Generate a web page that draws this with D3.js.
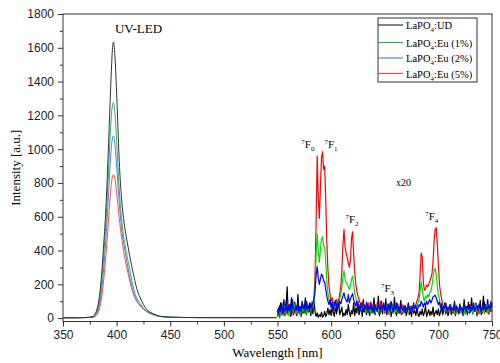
<!DOCTYPE html>
<html>
<head>
<meta charset="utf-8">
<script src="https://cdn.jsdelivr.net/npm/d3@7"></script>
<style>
  body { margin: 0; background: #fff; }
  svg { display: block; }
</style>
</head>
<body>
<svg id="chart" width="500" height="363"></svg>
<script>
// LED emission band (smooth part), wavelengths in nm
const ledX = [350, 360, 370, 374, 376, 378, 380, 382, 384, 386, 388, 390, 391, 392, 393, 394, 395, 396, 397,
  398, 399, 400, 401, 402, 403, 404, 405, 406, 408, 410, 412, 414, 416, 418, 420, 422, 425, 428, 431,
  435, 440, 445, 450, 460, 480, 500, 520, 549];
const ledUD = [2, 2, 3, 5, 7, 10, 25, 60, 130, 260, 440, 650, 790, 950, 1120, 1290, 1450, 1580, 1635,
  1590, 1480, 1330, 1170, 1000, 860, 760, 680, 615, 520, 445, 375, 310, 250, 195, 150, 120, 80, 52, 36,
  24, 12, 8, 6, 4, 3, 3, 3, 3];
const ledEu1 = [2, 2, 3, 4, 6, 8, 18, 45, 100, 210, 370, 560, 680, 810, 950, 1080, 1190, 1255, 1275,
  1240, 1160, 1050, 930, 810, 710, 630, 565, 510, 430, 360, 295, 225, 170, 130, 105, 85, 60, 42, 30,
  20, 11, 7, 5, 4, 3, 3, 3, 3];
const ledEu2 = [2, 2, 3, 4, 5, 6, 14, 34, 80, 165, 300, 470, 570, 680, 800, 910, 1005, 1060, 1080,
  1050, 985, 900, 810, 720, 640, 570, 510, 465, 390, 320, 250, 190, 145, 115, 92, 75, 55, 40, 29,
  19, 11, 7, 5, 4, 3, 3, 3, 3];
const ledEu5 = [2, 2, 3, 3, 4, 5, 9, 22, 55, 120, 230, 370, 450, 540, 630, 720, 790, 835, 850,
  835, 800, 740, 680, 620, 560, 505, 460, 415, 345, 285, 225, 175, 135, 108, 88, 72, 53, 38, 28,
  18, 10, 7, 5, 4, 3, 3, 3, 3];

// Eu3+ emission (x20), sampled every 1 nm from 550 to 750
const euStart = 550;
const euUD = [
  10, 60, 5, 90, 20, 40, 110, 15, 70, 185,
  30, 80, 10, 120, 45, 20, 95, 60, 15, 140,
  40, 70, 10, 100, 30, 55, 120, 20, 80, 35,
  90, 15, 60, 25, 110, 40, 10, 30, 5, 20,
  10, 35, 5, 15, 40, 10, 25, 60, 20, 50,
  15, 70, 30, 10, 85, 25, 55, 110, 20, 40,
  65, 10, 30, 15, 50, 20, 80, 35, 10, 45,
  25, 90, 15, 60, 30, 100, 20, 45, 75, 10,
  110, 35, 60, 20, 85, 40, 15, 95, 30, 55,
  120, 20, 70, 40, 130, 15, 60, 100, 25, 80,
  35, 115, 20, 65, 40, 90, 10, 70, 30, 125,
  45, 15, 85, 30, 60, 105, 20, 50, 35, 75,
  15, 40, 90, 20, 55, 10, 70, 30, 45, 15,
  60, 25, 10, 40, 20, 55, 15, 35, 70, 10,
  30, 50, 15, 40, 20, 65, 10, 30, 45, 20,
  55, 15, 35, 70, 20, 45, 90, 25, 60, 15,
  40, 80, 20, 55, 30, 100, 15, 65, 40, 25,
  85, 35, 60, 15, 110, 40, 70, 20, 95, 30,
  50, 120, 25, 65, 40, 90, 15, 75, 35, 105,
  20, 60, 130, 30, 80, 45, 110, 25, 70, 40,
  90];
const euEu5 = [
  15, 40, 10, 55, 25, 70, 20, 45, 30, 60,
  20, 80, 35, 15, 55, 25, 45, 65, 20, 40,
  50, 25, 60, 30, 75, 40, 65, 35, 85, 50,
  40, 70, 95, 60, 120, 260, 560, 960, 720, 590,
  770, 950, 984, 880, 900, 690, 450, 290, 190, 140,
  100, 120, 80, 95, 70, 110, 85, 100, 140, 180,
  280, 430, 525, 420, 385, 360, 330, 300, 340, 470,
  510, 380, 270, 200, 160, 130, 110, 90, 75, 95,
  60, 80, 45, 70, 55, 90, 40, 65, 50, 80,
  35, 70, 45, 90, 30, 60, 100, 40, 75, 55,
  30, 65, 45, 80, 25, 55, 35, 70, 40, 60,
  30, 50, 75, 35, 60, 25, 45, 80, 30, 55,
  40, 65, 30, 50, 70, 35, 55, 45, 60, 80,
  100, 120, 150, 260, 385, 360, 210, 165, 175, 195,
  185, 200, 215, 240, 260, 330, 450, 525, 535, 440,
  320, 200, 150, 115, 80, 60, 75, 45, 65, 35,
  55, 40, 70, 30, 50, 65, 25, 45, 60, 35,
  50, 30, 65, 40, 55, 25, 45, 70, 35, 50,
  40, 60, 30, 55, 45, 70, 35, 50, 25, 60,
  45, 30, 55, 40, 65, 35, 50, 25, 45, 60,
  40];
const euEu1 = [
  30, 10, 50, 20, 65, 15, 40, 75, 25, 55,
  15, 45, 70, 20, 60, 35, 85, 25, 50, 30,
  65, 20, 55, 40, 80, 30, 60, 25, 70, 45,
  55, 35, 80, 60, 90, 180, 380, 500, 400, 330,
  400, 470, 480, 430, 420, 330, 220, 150, 110, 85,
  70, 90, 55, 80, 60, 95, 70, 85, 110, 140,
  180, 240, 280, 230, 210, 200, 185, 170, 190, 230,
  250, 200, 150, 120, 95, 80, 60, 75, 50, 65,
  40, 70, 55, 35, 60, 45, 75, 30, 55, 40,
  65, 30, 50, 80, 35, 60, 25, 45, 70, 40,
  55, 30, 75, 45, 20, 60, 40, 85, 30, 50,
  35, 65, 25, 55, 40, 70, 30, 50, 60, 35,
  45, 70, 30, 55, 40, 60, 75, 45, 65, 80,
  60, 90, 110, 160, 215, 170, 120, 100, 130, 120,
  140, 125, 150, 160, 190, 240, 280, 294, 260, 190,
  140, 110, 85, 70, 55, 75, 40, 60, 35, 50,
  70, 30, 55, 40, 65, 25, 50, 75, 35, 45,
  60, 30, 50, 70, 25, 55, 40, 65, 35, 50,
  45, 70, 30, 55, 40, 85, 35, 50, 65, 30,
  55, 40, 70, 35, 50, 80, 30, 60, 45, 70,
  40];
const euEu2 = [
  50, 20, 75, 35, 90, 25, 60, 40, 100, 30,
  70, 45, 85, 20, 110, 55, 35, 80, 45, 95,
  30, 65, 40, 90, 55, 75, 30, 100, 50, 70,
  40, 85, 60, 95, 110, 160, 250, 305, 240, 200,
  230, 260, 250, 220, 215, 170, 130, 100, 80, 110,
  60, 95, 45, 80, 105, 55, 90, 70, 100, 85,
  110, 130, 150, 120, 105, 95, 140, 90, 115, 130,
  145, 110, 90, 70, 100, 55, 80, 45, 90, 60,
  40, 75, 55, 95, 35, 70, 50, 85, 40, 65,
  30, 80, 55, 40, 95, 60, 35, 75, 50, 90,
  45, 70, 30, 85, 55, 40, 100, 60, 35, 75,
  50, 90, 40, 65, 30, 80, 55, 45, 70, 35,
  60, 40, 85, 50, 30, 70, 45, 90, 55, 75,
  40, 60, 80, 70, 100, 85, 65, 90, 75, 100,
  80, 95, 110, 90, 105, 125, 130, 136, 120, 100,
  80, 95, 60, 85, 45, 70, 55, 90, 40, 65,
  50, 80, 35, 60, 45, 90, 40, 70, 55, 30,
  75, 45, 60, 35, 85, 50, 40, 70, 55, 80,
  35, 65, 50, 90, 40, 60, 75, 45, 85, 55,
  35, 70, 50, 95, 40, 65, 55, 80, 45, 100,
  60];

const seriesNames = ["UD", "Eu (1%)", "Eu (2%)", "Eu (5%)"];
const xTicks = [350, 400, 450, 500, 550, 600, 650, 700, 750];
const yTicks = [0, 200, 400, 600, 800, 1000, 1200, 1400, 1600, 1800];

const ledColors = ["#333333", "#3aa860", "#4a86e8", "#ff4a4a"];
const euColors = ["#000000", "#00dd00", "#0000ff", "#ff0000"];

const svg = d3.select("#chart");
const margin = { left: 63, right: 8, top: 14, bottom: 41.5 };
const W = 500, H = 363;

const x = d3.scaleLinear().domain([350, 750]).range([margin.left, W - margin.right]);
const y = d3.scaleLinear().domain([-20, 1800]).range([H - margin.bottom, margin.top]);

const plot = svg.append("g");

// LED curves (smooth)
const ledSeries = [ledUD, ledEu1, ledEu2, ledEu5];
const ledLine = d3.line()
  .x((d, i) => x(ledX[i]))
  .y(d => y(d))
  .curve(d3.curveMonotoneX);
[3, 2, 1, 0].forEach(k => {
  plot.append("path")
    .attr("d", ledLine(ledSeries[k]))
    .attr("fill", "none")
    .attr("stroke", ledColors[k])
    .attr("stroke-width", 1);
});

// Eu emission curves (x20), drawn black, red, green, blue
const euSeries = [euUD, euEu1, euEu2, euEu5];
const euLine = d3.line()
  .x((d, i) => x(euStart + i))
  .y(d => y(d));
[0, 3, 1, 2].forEach(k => {
  plot.append("path")
    .attr("d", euLine(euSeries[k]))
    .attr("fill", "none")
    .attr("stroke", euColors[k])
    .attr("stroke-width", 1.2)
    .attr("stroke-linejoin", "round");
});

// axes
const axisColor = "#333";
const sans = "'Liberation Sans', Arial, sans-serif";
const fmt = d3.format("d");
svg.append("g")
  .attr("transform", `translate(0,${y.range()[0]})`)
  .call(d3.axisBottom(x).tickValues(xTicks).tickFormat(fmt).tickSize(5).tickPadding(4));
svg.append("g")
  .attr("transform", `translate(0,${y.range()[0]})`)
  .call(d3.axisBottom(x).tickValues(d3.range(375, 750, 50)).tickSize(3).tickFormat(""));
svg.append("g")
  .attr("transform", `translate(${x.range()[0]},0)`)
  .call(d3.axisLeft(y).tickValues(yTicks).tickFormat(fmt).tickSize(5).tickPadding(4));
svg.append("g")
  .attr("transform", `translate(${x.range()[0]},0)`)
  .call(d3.axisLeft(y).tickValues(d3.range(100, 1800, 200)).tickSize(3).tickFormat(""));

svg.selectAll(".domain").remove();
svg.selectAll(".tick line").attr("stroke", axisColor);
svg.selectAll(".tick text")
  .attr("fill", "#222")
  .attr("font-family", sans)
  .attr("font-size", 12);

// frame
svg.append("rect")
  .attr("x", x.range()[0]).attr("y", y.range()[1])
  .attr("width", x.range()[1] - x.range()[0])
  .attr("height", y.range()[0] - y.range()[1])
  .attr("fill", "none").attr("stroke", axisColor).attr("stroke-width", 1);

const serif = "'Liberation Serif', 'Times New Roman', serif";

// axis titles
svg.append("text")
  .attr("x", (x.range()[0] + x.range()[1]) / 2).attr("y", 357)
  .attr("text-anchor", "middle")
  .attr("font-family", serif).attr("font-size", 13)
  .text("Wavelength [nm]");
svg.append("text")
  .attr("transform", `translate(20,${(y.range()[0] + y.range()[1]) / 2}) rotate(-90)`)
  .attr("text-anchor", "middle")
  .attr("font-family", serif).attr("font-size", 13)
  .text("Intensity [a.u.]");

// annotations
svg.append("text")
  .attr("x", x(398.4)).attr("y", y(1687))
  .attr("font-family", serif).attr("font-size", 13)
  .text("UV-LED");
svg.append("text")
  .attr("x", x(660.4)).attr("y", y(782))
  .attr("font-family", serif).attr("font-size", 10)
  .text("x20");

const levels = [
  { n: "0", wl: 572.2, v: 1007 },
  { n: "1", wl: 593.8, v: 1007 },
  { n: "2", wl: 613.3, v: 563 },
  { n: "3", wl: 646.5, v: 155 },
  { n: "4", wl: 687.7, v: 580 }
];
levels.forEach(l => {
  const t = svg.append("text")
    .attr("x", x(l.wl)).attr("y", y(l.v))
    .attr("font-family", serif).attr("font-size", 11);
  t.append("tspan").attr("font-size", 7).attr("dy", -4).text("7");
  t.append("tspan").attr("dy", 4).text("F");
  t.append("tspan").attr("font-size", 7).attr("dy", 3).text(l.n);
});

// legend
const lg = svg.append("g").attr("transform", "translate(378,18)");
lg.append("rect").attr("width", 99).attr("height", 64)
  .attr("fill", "#fff").attr("stroke", axisColor);
seriesNames.forEach((name, i) => {
  const yy = [7, 24.5, 40, 55.5][i];
  lg.append("line").attr("x1", 0).attr("x2", 25).attr("y1", yy).attr("y2", yy)
    .attr("stroke", ledColors[i]).attr("stroke-width", 1.2);
  const t = lg.append("text").attr("x", 28).attr("y", yy + 4)
    .attr("font-family", serif).attr("font-size", 10.5);
  t.append("tspan").text("LaPO");
  t.append("tspan").attr("font-size", 7).attr("dy", 3).text("4");
  t.append("tspan").attr("dy", -3).text(":" + name);
});
</script>
</body>
</html>
